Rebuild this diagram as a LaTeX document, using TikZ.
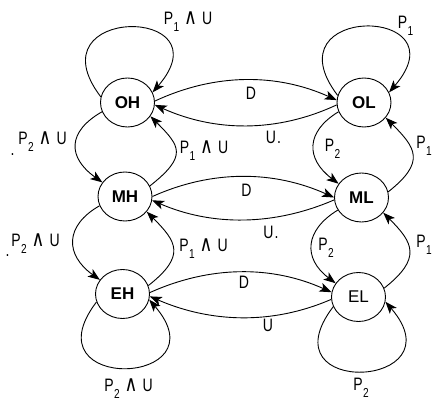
\documentclass[tikz,border=0pt]{standalone}
\usepackage{fontspec}
\setmainfont{Liberation Sans}
\newfontfamily\labfont[FakeStretch=0.78]{Liberation Sans}
\newfontfamily\andfont[FakeStretch=0.8]{DejaVu Sans}
\usetikzlibrary{arrows.meta,shapes.geometric}

% P with a low subscript, and the "and U" tail of a guard
\newcommand\Psub[1]{P\kern0.3pt\raisebox{-7pt}{\fontsize{13}{13}\labfont#1}}
\newcommand\AndU{\hspace{5pt}{\fontsize{22}{22}\andfont ∧}\hspace{5pt}U}

\begin{document}
\begin{tikzpicture}[x=1pt,y=-1pt,
  state/.style={draw, ellipse, line width=0.9pt, minimum width=54pt,
    minimum height=49pt, inner sep=0pt,
    font=\fontsize{17}{17}\selectfont\bfseries},
  plainstate/.style={state, font=\fontsize{17}{17}\selectfont},
  edge/.style={line width=0.9pt, -{Stealth[length=12pt,width=9pt,inset=3pt]}},
  lab/.style={inner sep=0pt, font=\fontsize{18}{18}\labfont}]

\useasboundingbox (0,0) rectangle (432,401);

% states
\node[state] (OH) at (127.5,102.5) {OH};
\node[state] (OL) at (364,102.5) {OL};
\node[state] (MH) at (125,196.5) {MH};
\node[state] (ML) at (361.5,197.5) {ML};
\node[state] (EH) at (122.5,294) {EH};
\node[plainstate] (EL) at (358.5,297) {EL};

% self loops
\draw[edge] (OH.168) .. controls +(-70,-92) and +(75,-87) .. (OH.22);
\draw[edge] (OL.165) .. controls +(-70,-92) and +(75,-87) .. (OL.22);
\draw[edge] (EH.197) .. controls +(-70,92) and +(75,87) .. (EH.-12);
\draw[edge] (EL.201) .. controls +(-70,92) and +(75,87) .. (EL.-10);

% vertical transitions, H column
\draw[edge] (OH.200) .. controls +(-35,20) and +(-35,-25) .. (MH.148);
\draw[edge] (MH.23)  .. controls +(38,-30) and +(30,30) .. (OH.-31);
\draw[edge] (MH.200) .. controls +(-35,20) and +(-35,-25) .. (EH.148);
\draw[edge] (EH.18)  .. controls +(38,-30) and +(30,30) .. (MH.-35);

% vertical transitions, L column
\draw[edge] (OL.200) .. controls +(-33,20) and +(-33,-25) .. (ML.149);
\draw[edge] (ML.12)  .. controls +(38,-30) and +(30,30) .. (OL.-35);
\draw[edge] (ML.208) .. controls +(-33,20) and +(-33,-25) .. (EL.149);
\draw[edge] (EL.19)  .. controls +(38,-30) and +(30,30) .. (ML.-35);

% horizontal transitions
\draw[edge] (OH.3)   .. controls +(60,-28) and +(-60,-27) .. (OL.175);
\draw[edge] (OL.185) .. controls +(-60,28) and +(60,27) .. (OH.-5);
\draw[edge] (MH.0)   .. controls +(60,-27) and +(-60,-27) .. (ML.180);
\draw[edge] (ML.185) .. controls +(-60,26) and +(60,26) .. (MH.-8);
\draw[edge] (EH.3)   .. controls +(60,-27) and +(-60,-27) .. (EL.170);
\draw[edge] (EL.185) .. controls +(-60,26) and +(60,26) .. (EH.-5);

% guards
\node[lab] (gOH)   at (188,21.5)  {\Psub{1}\AndU};
\node[lab] (gOL)   at (405.5,26)  {\Psub{1}};
\node[lab] (gOM)   at (42.5,141.5) {\Psub{2}\AndU};
\node[lab] (dotA)  at (12.5,155)  {.};
\node[lab] (gMO)   at (204,151)   {\Psub{1}\AndU};
\node[lab] (gOLML) at (332.5,148.5) {\Psub{2}};
\node[lab] (gMLOL) at (424,146)   {\Psub{1}};
\node[lab] (gME)   at (35.5,243.5) {\Psub{2}\AndU};
\node[lab] (dotB)  at (7.5,256)   {.};
\node[lab] (gEM)   at (203.5,249) {\Psub{1}\AndU};
\node[lab] (gMLEL) at (326,247.5) {\Psub{2}};
\node[lab] (gELML) at (424,245)   {\Psub{1}};
\node[lab] (gEH)   at (128.5,388.5) {\Psub{2}\AndU};
\node[lab] (gEL)   at (361,388)   {\Psub{2}};

\node[lab] (d1) at (251,93.5)  {D};
\node[lab] (u1) at (273.5,137) {U\kern1pt.};
\node[lab] (d2) at (246.5,190.5) {D};
\node[lab] (u2) at (271,232)   {U\kern1pt.};
\node[lab] (d3) at (244,282.5) {D};
\node[lab] (u3) at (268,325)   {U};
\end{tikzpicture}
\end{document}
